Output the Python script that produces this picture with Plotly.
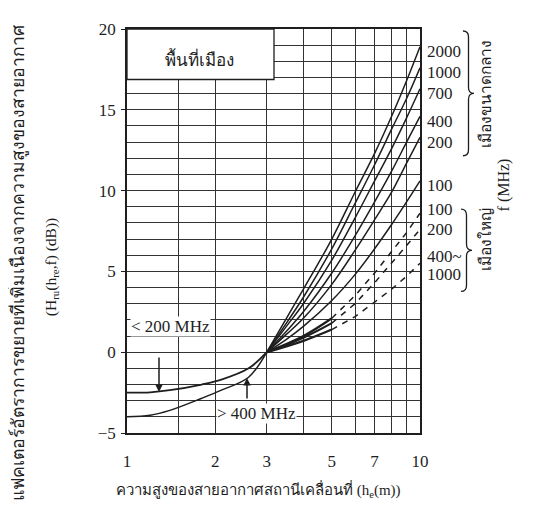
import plotly.graph_objects as go

# ---------------- data ----------------
# medium-size city curves, h = 3 .. 10 m
h_mid = [3, 3.5, 4, 5, 6, 7, 8, 9, 10]
mid_2000 = [0, 2.1, 3.9, 7.0, 9.9, 12.3, 14.6, 16.8, 18.9]
mid_1000 = [0, 1.8, 3.4, 6.4, 9.2, 11.6, 13.8, 15.7, 17.6]
mid_700 = [0, 1.6, 3.0, 5.7, 8.3, 10.6, 12.6, 14.5, 16.3]
mid_400 = [0, 1.3, 2.5, 4.9, 7.2, 9.3, 11.2, 13.0, 14.6]
mid_200 = [0, 1.1, 2.1, 4.2, 6.3, 8.2, 9.9, 11.7, 13.3]
mid_100 = [0, 0.8, 1.6, 3.2, 4.8, 6.4, 7.9, 9.3, 10.6]

# large city curves, h = 3 .. 10 m
h_large = [3, 4, 5, 6, 7, 8, 9, 10]
large_100 = [0, 1.0, 2.1, 3.5, 4.9, 6.2, 7.4, 8.6]
large_200 = [0, 0.9, 1.8, 3.0, 4.3, 5.5, 6.6, 7.6]
large_400_1000 = [0, 0.7, 1.4, 2.2, 3.1, 3.9, 4.7, 5.5]

# low antenna heights, h = 1 .. 3 m
h_low = [1, 1.2, 1.4, 1.8, 2.1, 2.6, 3]
low_lt200 = [-2.5, -2.48, -2.35, -2.0, -1.7, -1.0, 0]
low_gt400 = [-4.0, -3.9, -3.6, -2.85, -2.35, -1.55, 0]

x_tickvals = [1, 1.5, 2, 3, 4, 5, 6, 7, 8, 9, 10]
x_ticktext = ["1", "", "2", "3", "", "5", "", "7", "", "", "10"]
y_tickvals = [-5, 0, 5, 10, 15, 20]

mid_series = [("2000", mid_2000), ("1000", mid_1000), ("700", mid_700),
              ("400", mid_400), ("200", mid_200), ("100", mid_100)]
large_series = [("100", large_100), ("200", large_200), ("400~1000", large_400_1000)]

# ---------------- figure ----------------
# the page body adds 8 px on the left and top
W, H = 525, 512
L, R, T, B = 119, 113, 17, 87
PW, PH = W - L - R, H - T - B
REF_L, REF_B = 127, 433   # plot-area left / bottom in page pixels


def px(x):
    return (x - REF_L) / PW


def py(y):
    return (REF_B - y) / PH


SERIF = "Liberation Serif, Noto Sans, DejaVu Sans, serif"
INK = "#1e1e1e"
GRID = "#333333"
FS = 17
fig = go.Figure()

for name, vals in mid_series:
    fig.add_trace(go.Scatter(x=h_mid, y=vals, mode="lines", line=dict(color=INK, width=1.5, shape="spline"),
                             showlegend=False, hoverinfo="skip"))

split = h_large.index(5)
for name, vals in large_series:
    fig.add_trace(go.Scatter(x=h_large[:split + 1], y=vals[:split + 1], mode="lines",
                             line=dict(color=INK, width=2.2, shape="spline"), showlegend=False, hoverinfo="skip"))
    fig.add_trace(go.Scatter(x=h_large[split:], y=vals[split:], mode="lines",
                             line=dict(color=INK, width=1.5, dash="6px,6px"), showlegend=False, hoverinfo="skip"))

fig.add_trace(go.Scatter(x=h_low, y=low_lt200, mode="lines", line=dict(color=INK, width=1.8, shape="spline"),
                         showlegend=False, hoverinfo="skip"))
fig.add_trace(go.Scatter(x=h_low, y=low_gt400, mode="lines", line=dict(color=INK, width=1.5, shape="spline"),
                         showlegend=False, hoverinfo="skip"))

ann = []
# right-hand frequency labels at the curve ends
for name, vals in mid_series:
    ann.append(dict(x=1.0, xref="paper", xanchor="left", xshift=5, y=vals[-1] - 0.3, yref="y",
                    text=name, showarrow=False, font=dict(family=SERIF, size=FS, color=INK)))
large_offsets = {"100": 0.2, "200": 0.0}
for name, vals in large_series:
    if name in large_offsets:
        ann.append(dict(x=1.0, xref="paper", xanchor="left", xshift=5, y=vals[-1] + large_offsets[name],
                        yref="y", text=name, showarrow=False, font=dict(family=SERIF, size=FS, color=INK)))
    else:
        a, b = name.split("~")
        ann.append(dict(x=1.0, xref="paper", xanchor="left", xshift=5, y=vals[-1] + 0.4, yref="y",
                        text=a + "~", showarrow=False, font=dict(family=SERIF, size=FS, color=INK)))
        ann.append(dict(x=1.0, xref="paper", xanchor="left", xshift=5, y=vals[-1] - 0.7, yref="y",
                        text=b, showarrow=False, font=dict(family=SERIF, size=FS, color=INK)))

# box label
ann.append(dict(x=px(163), y=py(42), xref="paper", yref="paper", text="พื้นที่เมือง", showarrow=False,
                font=dict(family=SERIF, size=17, color=INK)))
# curve labels
ann.append(dict(x=px(130), y=py(336), xref="paper", yref="paper", xanchor="left", text="< 200 MHz",
                showarrow=False, bgcolor="white", borderpad=0, font=dict(family=SERIF, size=FS, color=INK)))
ann.append(dict(x=px(216), y=py(424), xref="paper", yref="paper", xanchor="left", text="> 400 MHz",
                showarrow=False, bgcolor="white", borderpad=0, font=dict(family=SERIF, size=FS, color=INK)))
# arrows
ann.append(dict(x=px(159), y=low_lt200[1] + 0.02, xref="paper", yref="y", ax=0, ay=-36, text="",
                showarrow=True, arrowhead=2, arrowsize=1, arrowwidth=1.5, arrowcolor=INK))
ann.append(dict(x=px(247), y=low_gt400[5] - 0.05, xref="paper", yref="y", ax=0, ay=22, text="",
                showarrow=True, arrowhead=2, arrowsize=1, arrowwidth=1.5, arrowcolor=INK))
# side texts
ann.append(dict(x=px(496), y=py(35), xref="paper", yref="paper", text="เมืองขนาดกลาง", textangle=-90,
                showarrow=False, font=dict(family=SERIF, size=15.5, color=INK)))
ann.append(dict(x=px(496), y=py(238), xref="paper", yref="paper", text="เมืองใหญ่", textangle=-90,
                showarrow=False, font=dict(family=SERIF, size=15.5, color=INK)))
ann.append(dict(x=px(515), y=py(183), xref="paper", yref="paper", text="f (MHz)", textangle=-90,
                showarrow=False, font=dict(family=SERIF, size=16, color=INK)))
# axis titles
ann.append(dict(x=px(4), y=py(262), xref="paper", yref="paper",
                text="แฟคเตอร์อัตราการขยายที่เพิ่มเนื่องจากความสูงของสายอากาศ", textangle=-90,
                showarrow=False, font=dict(family=SERIF, size=17.6, color=INK)))
ann.append(dict(x=px(40), y=py(266), xref="paper", yref="paper",
                text="(H<sub>ru</sub>(h<sub>re</sub>,f) (dB))", textangle=-90,
                showarrow=False, font=dict(family=SERIF, size=15.5, color=INK)))
ann.append(dict(x=px(258), y=py(503), xref="paper", yref="paper",
                text="ความสูงของสายอากาศสถานีเคลื่อนที่ (h<sub>e</sub>(m))",
                showarrow=False, font=dict(family=SERIF, size=15, color=INK)))


def brace(x0, y_top, y_bot, w):
    xm, xe = x0 + w / 2, x0 + w
    ym = (y_top + y_bot) / 2
    r = 6
    pts = [
        f"M {px(x0)},{py(y_top)}",
        f"Q {px(xm)},{py(y_top)} {px(xm)},{py(y_top + r)}",
        f"L {px(xm)},{py(ym - r)}",
        f"Q {px(xm)},{py(ym)} {px(xe)},{py(ym)}",
        f"Q {px(xm)},{py(ym)} {px(xm)},{py(ym + r)}",
        f"L {px(xm)},{py(y_bot - r)}",
        f"Q {px(xm)},{py(y_bot)} {px(x0)},{py(y_bot)}",
    ]
    return dict(type="path", xref="paper", yref="paper", path=" ".join(pts),
                line=dict(color=INK, width=1.3))


shapes = [
    dict(type="rect", xref="paper", yref="paper", x0=0, x1=px(274), y0=py(76), y1=1.0,
         fillcolor="white", line=dict(color=INK, width=1.3), layer="above"),
    brace(463, 27, 153, 11),
    brace(461, 207, 290, 11),
]

fig.update_layout(
    width=W, height=H, margin=dict(l=L, r=R, t=T, b=B),
    paper_bgcolor="white", plot_bgcolor="white",
    annotations=ann, shapes=shapes, showlegend=False,
    xaxis=dict(type="log", range=[0, 1], tickmode="array", tickvals=x_tickvals, ticktext=x_ticktext,
               showgrid=True, gridcolor=GRID, gridwidth=1.3, ticks="", ticklabelstandoff=12,
               showline=True, linecolor=INK, linewidth=1.6, mirror=True, zeroline=False,
               tickfont=dict(family=SERIF, size=FS, color=INK)),
    yaxis=dict(range=[-5, 20], tickmode="array", tickvals=y_tickvals, ticks="outside", ticklen=4,
               tickcolor=INK, showgrid=True, gridcolor=GRID, gridwidth=1.3,
               minor=dict(tickmode="array", tickvals=list(range(-5, 21)), showgrid=True,
                          gridcolor=GRID, gridwidth=1.3, ticks=""),
               showline=True, linecolor=INK, linewidth=1.6, mirror=True, zeroline=False,
               ticklabelstandoff=2, tickfont=dict(family=SERIF, size=FS, color=INK)),
)

fig.write_html("out.html")
